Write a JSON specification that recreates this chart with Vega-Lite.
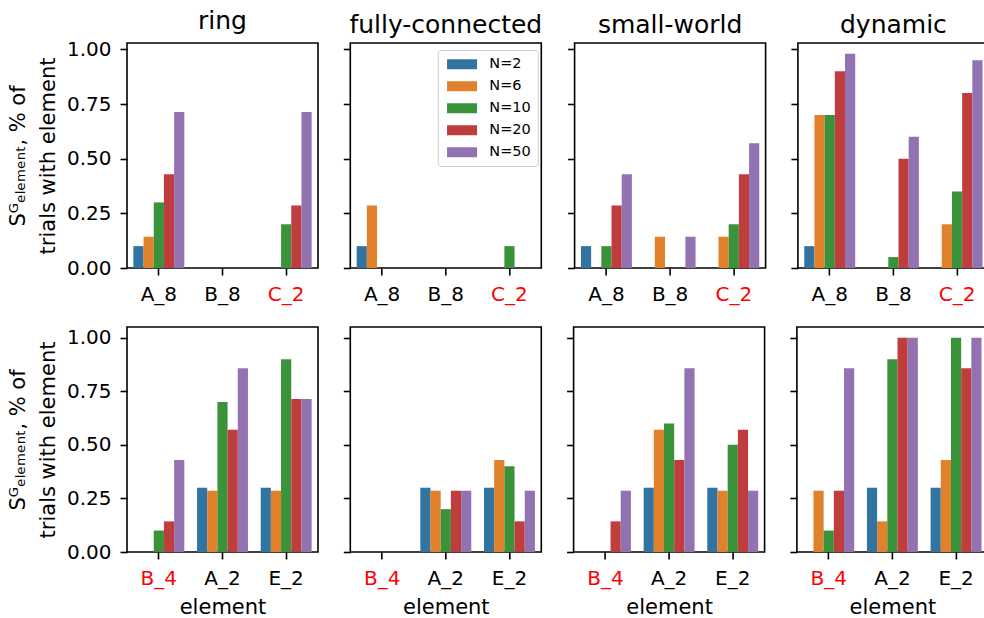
{
  "$schema": "https://vega.github.io/schema/vega-lite/v6.json",
  "padding": {"left": 6, "top": 8, "right": 0, "bottom": 0},
  "data": {"values": [
    {"topology":"ring","row":"top","element":"A_8","N":"N=2","value":0.1},
    {"topology":"ring","row":"top","element":"A_8","N":"N=6","value":0.143},
    {"topology":"ring","row":"top","element":"A_8","N":"N=10","value":0.3},
    {"topology":"ring","row":"top","element":"A_8","N":"N=20","value":0.429},
    {"topology":"ring","row":"top","element":"A_8","N":"N=50","value":0.714},
    {"topology":"ring","row":"top","element":"B_8","N":"N=2","value":0},
    {"topology":"ring","row":"top","element":"B_8","N":"N=6","value":0},
    {"topology":"ring","row":"top","element":"B_8","N":"N=10","value":0},
    {"topology":"ring","row":"top","element":"B_8","N":"N=20","value":0},
    {"topology":"ring","row":"top","element":"B_8","N":"N=50","value":0},
    {"topology":"ring","row":"top","element":"C_2","N":"N=2","value":0},
    {"topology":"ring","row":"top","element":"C_2","N":"N=6","value":0},
    {"topology":"ring","row":"top","element":"C_2","N":"N=10","value":0.2},
    {"topology":"ring","row":"top","element":"C_2","N":"N=20","value":0.286},
    {"topology":"ring","row":"top","element":"C_2","N":"N=50","value":0.714},
    {"topology":"fully-connected","row":"top","element":"A_8","N":"N=2","value":0.1},
    {"topology":"fully-connected","row":"top","element":"A_8","N":"N=6","value":0.286},
    {"topology":"fully-connected","row":"top","element":"A_8","N":"N=10","value":0},
    {"topology":"fully-connected","row":"top","element":"A_8","N":"N=20","value":0},
    {"topology":"fully-connected","row":"top","element":"A_8","N":"N=50","value":0},
    {"topology":"fully-connected","row":"top","element":"B_8","N":"N=2","value":0},
    {"topology":"fully-connected","row":"top","element":"B_8","N":"N=6","value":0},
    {"topology":"fully-connected","row":"top","element":"B_8","N":"N=10","value":0},
    {"topology":"fully-connected","row":"top","element":"B_8","N":"N=20","value":0},
    {"topology":"fully-connected","row":"top","element":"B_8","N":"N=50","value":0},
    {"topology":"fully-connected","row":"top","element":"C_2","N":"N=2","value":0},
    {"topology":"fully-connected","row":"top","element":"C_2","N":"N=6","value":0},
    {"topology":"fully-connected","row":"top","element":"C_2","N":"N=10","value":0.1},
    {"topology":"fully-connected","row":"top","element":"C_2","N":"N=20","value":0},
    {"topology":"fully-connected","row":"top","element":"C_2","N":"N=50","value":0},
    {"topology":"small-world","row":"top","element":"A_8","N":"N=2","value":0.1},
    {"topology":"small-world","row":"top","element":"A_8","N":"N=6","value":0},
    {"topology":"small-world","row":"top","element":"A_8","N":"N=10","value":0.1},
    {"topology":"small-world","row":"top","element":"A_8","N":"N=20","value":0.286},
    {"topology":"small-world","row":"top","element":"A_8","N":"N=50","value":0.429},
    {"topology":"small-world","row":"top","element":"B_8","N":"N=2","value":0},
    {"topology":"small-world","row":"top","element":"B_8","N":"N=6","value":0.143},
    {"topology":"small-world","row":"top","element":"B_8","N":"N=10","value":0},
    {"topology":"small-world","row":"top","element":"B_8","N":"N=20","value":0},
    {"topology":"small-world","row":"top","element":"B_8","N":"N=50","value":0.143},
    {"topology":"small-world","row":"top","element":"C_2","N":"N=2","value":0},
    {"topology":"small-world","row":"top","element":"C_2","N":"N=6","value":0.143},
    {"topology":"small-world","row":"top","element":"C_2","N":"N=10","value":0.2},
    {"topology":"small-world","row":"top","element":"C_2","N":"N=20","value":0.429},
    {"topology":"small-world","row":"top","element":"C_2","N":"N=50","value":0.571},
    {"topology":"dynamic","row":"top","element":"A_8","N":"N=2","value":0.1},
    {"topology":"dynamic","row":"top","element":"A_8","N":"N=6","value":0.7},
    {"topology":"dynamic","row":"top","element":"A_8","N":"N=10","value":0.7},
    {"topology":"dynamic","row":"top","element":"A_8","N":"N=20","value":0.9},
    {"topology":"dynamic","row":"top","element":"A_8","N":"N=50","value":0.98},
    {"topology":"dynamic","row":"top","element":"B_8","N":"N=2","value":0},
    {"topology":"dynamic","row":"top","element":"B_8","N":"N=6","value":0},
    {"topology":"dynamic","row":"top","element":"B_8","N":"N=10","value":0.05},
    {"topology":"dynamic","row":"top","element":"B_8","N":"N=20","value":0.5},
    {"topology":"dynamic","row":"top","element":"B_8","N":"N=50","value":0.6},
    {"topology":"dynamic","row":"top","element":"C_2","N":"N=2","value":0},
    {"topology":"dynamic","row":"top","element":"C_2","N":"N=6","value":0.2},
    {"topology":"dynamic","row":"top","element":"C_2","N":"N=10","value":0.35},
    {"topology":"dynamic","row":"top","element":"C_2","N":"N=20","value":0.8},
    {"topology":"dynamic","row":"top","element":"C_2","N":"N=50","value":0.95},
    {"topology":"ring","row":"bottom","element":"B_4","N":"N=2","value":0},
    {"topology":"ring","row":"bottom","element":"B_4","N":"N=6","value":0},
    {"topology":"ring","row":"bottom","element":"B_4","N":"N=10","value":0.1},
    {"topology":"ring","row":"bottom","element":"B_4","N":"N=20","value":0.143},
    {"topology":"ring","row":"bottom","element":"B_4","N":"N=50","value":0.429},
    {"topology":"ring","row":"bottom","element":"A_2","N":"N=2","value":0.3},
    {"topology":"ring","row":"bottom","element":"A_2","N":"N=6","value":0.286},
    {"topology":"ring","row":"bottom","element":"A_2","N":"N=10","value":0.7},
    {"topology":"ring","row":"bottom","element":"A_2","N":"N=20","value":0.571},
    {"topology":"ring","row":"bottom","element":"A_2","N":"N=50","value":0.857},
    {"topology":"ring","row":"bottom","element":"E_2","N":"N=2","value":0.3},
    {"topology":"ring","row":"bottom","element":"E_2","N":"N=6","value":0.286},
    {"topology":"ring","row":"bottom","element":"E_2","N":"N=10","value":0.9},
    {"topology":"ring","row":"bottom","element":"E_2","N":"N=20","value":0.714},
    {"topology":"ring","row":"bottom","element":"E_2","N":"N=50","value":0.714},
    {"topology":"fully-connected","row":"bottom","element":"B_4","N":"N=2","value":0},
    {"topology":"fully-connected","row":"bottom","element":"B_4","N":"N=6","value":0},
    {"topology":"fully-connected","row":"bottom","element":"B_4","N":"N=10","value":0},
    {"topology":"fully-connected","row":"bottom","element":"B_4","N":"N=20","value":0},
    {"topology":"fully-connected","row":"bottom","element":"B_4","N":"N=50","value":0},
    {"topology":"fully-connected","row":"bottom","element":"A_2","N":"N=2","value":0.3},
    {"topology":"fully-connected","row":"bottom","element":"A_2","N":"N=6","value":0.286},
    {"topology":"fully-connected","row":"bottom","element":"A_2","N":"N=10","value":0.2},
    {"topology":"fully-connected","row":"bottom","element":"A_2","N":"N=20","value":0.286},
    {"topology":"fully-connected","row":"bottom","element":"A_2","N":"N=50","value":0.286},
    {"topology":"fully-connected","row":"bottom","element":"E_2","N":"N=2","value":0.3},
    {"topology":"fully-connected","row":"bottom","element":"E_2","N":"N=6","value":0.429},
    {"topology":"fully-connected","row":"bottom","element":"E_2","N":"N=10","value":0.4},
    {"topology":"fully-connected","row":"bottom","element":"E_2","N":"N=20","value":0.143},
    {"topology":"fully-connected","row":"bottom","element":"E_2","N":"N=50","value":0.286},
    {"topology":"small-world","row":"bottom","element":"B_4","N":"N=2","value":0},
    {"topology":"small-world","row":"bottom","element":"B_4","N":"N=6","value":0},
    {"topology":"small-world","row":"bottom","element":"B_4","N":"N=10","value":0},
    {"topology":"small-world","row":"bottom","element":"B_4","N":"N=20","value":0.143},
    {"topology":"small-world","row":"bottom","element":"B_4","N":"N=50","value":0.286},
    {"topology":"small-world","row":"bottom","element":"A_2","N":"N=2","value":0.3},
    {"topology":"small-world","row":"bottom","element":"A_2","N":"N=6","value":0.571},
    {"topology":"small-world","row":"bottom","element":"A_2","N":"N=10","value":0.6},
    {"topology":"small-world","row":"bottom","element":"A_2","N":"N=20","value":0.429},
    {"topology":"small-world","row":"bottom","element":"A_2","N":"N=50","value":0.857},
    {"topology":"small-world","row":"bottom","element":"E_2","N":"N=2","value":0.3},
    {"topology":"small-world","row":"bottom","element":"E_2","N":"N=6","value":0.286},
    {"topology":"small-world","row":"bottom","element":"E_2","N":"N=10","value":0.5},
    {"topology":"small-world","row":"bottom","element":"E_2","N":"N=20","value":0.571},
    {"topology":"small-world","row":"bottom","element":"E_2","N":"N=50","value":0.286},
    {"topology":"dynamic","row":"bottom","element":"B_4","N":"N=2","value":0},
    {"topology":"dynamic","row":"bottom","element":"B_4","N":"N=6","value":0.286},
    {"topology":"dynamic","row":"bottom","element":"B_4","N":"N=10","value":0.1},
    {"topology":"dynamic","row":"bottom","element":"B_4","N":"N=20","value":0.286},
    {"topology":"dynamic","row":"bottom","element":"B_4","N":"N=50","value":0.857},
    {"topology":"dynamic","row":"bottom","element":"A_2","N":"N=2","value":0.3},
    {"topology":"dynamic","row":"bottom","element":"A_2","N":"N=6","value":0.143},
    {"topology":"dynamic","row":"bottom","element":"A_2","N":"N=10","value":0.9},
    {"topology":"dynamic","row":"bottom","element":"A_2","N":"N=20","value":1.0},
    {"topology":"dynamic","row":"bottom","element":"A_2","N":"N=50","value":1.0},
    {"topology":"dynamic","row":"bottom","element":"E_2","N":"N=2","value":0.3},
    {"topology":"dynamic","row":"bottom","element":"E_2","N":"N=6","value":0.429},
    {"topology":"dynamic","row":"bottom","element":"E_2","N":"N=10","value":1.0},
    {"topology":"dynamic","row":"bottom","element":"E_2","N":"N=20","value":0.857},
    {"topology":"dynamic","row":"bottom","element":"E_2","N":"N=50","value":1.0}
  ]},
  "config": {
    "font": "DejaVu Sans",
    "view": {"stroke": "black", "strokeWidth": 1.6},
    "axis": {"domain": false, "grid": false, "tickColor": "black", "tickWidth": 1.6, "tickSize": 7,
             "labelFont": "DejaVu Sans", "labelFontSize": 20, "labelColor": "black", "labelPadding": 9,
             "labelFlush": false, "labelAngle": 0,
             "titleFont": "DejaVu Sans", "titleFontSize": 21, "titleFontWeight": "normal", "titleColor": "black"},
    "title": {"font": "DejaVu Sans", "fontSize": 25, "fontWeight": "normal", "color": "black", "frame": "group", "baseline": "alphabetic", "offset": 5},
    "legend": {"title": null, "symbolType": "M-1,-1H5V1H-1Z", "symbolSize": 100, "labelOffset": 30,
               "labelFont": "DejaVu Sans", "labelFontSize": 14.5, "labelColor": "black", "rowPadding": 7, "padding": 7,
               "fillColor": "white", "strokeColor": "#cccccc", "cornerRadius": 3, "symbolStrokeWidth": 0, "symbolOpacity": 1}
  },
  "spacing": 21,
  "resolve": {"scale": {"x": "independent", "y": "independent"}, "legend": {"color": "independent"}},
  "vconcat": [
    {
      "spacing": 22.3,
      "resolve": {"scale": {"x": "independent", "y": "independent"}, "legend": {"color": "independent"}},
      "hconcat": [
        {"width": 191, "height": 225, "title": "ring",
         "transform": [{"filter": "datum.topology == 'ring' && datum.row == 'top'"}],
         "mark": "bar",
         "encoding": {
           "x": {"field": "element", "type": "nominal", "scale": {"domain": ["A_8","B_8","C_2"], "paddingInner": 0.2, "paddingOuter": 0.1},
                 "axis": {"title": null, "labelColor": {"condition": {"test": "datum.value == 'C_2' || datum.value == 'B_4'", "value": "red"}, "value": "black"}}},
           "xOffset": {"field": "N", "type": "nominal", "scale": {"domain": ["N=2","N=6","N=10","N=20","N=50"], "paddingInner": 0, "paddingOuter": 0}},
           "y": {"field": "value", "type": "quantitative", "scale": {"domain": [0, 1.029], "nice": false},
                 "axis": {"values": [0, 0.25, 0.5, 0.75, 1], "format": ".2f", "title": ["Sᴳₑₗₑₘₑₙₜ, % of", "trials with element"], "titleLineHeight": 30, "titlePadding": 8}},
           "color": {"field": "N", "type": "nominal", "scale": {"domain": ["N=2","N=6","N=10","N=20","N=50"], "range": ["#3274a1","#e1812c","#3a923a","#c03d3e","#9372b2"]}, "legend": null}
         }},
        {"width": 191, "height": 225, "title": "fully-connected",
         "transform": [{"filter": "datum.topology == 'fully-connected' && datum.row == 'top'"}],
         "mark": "bar",
         "encoding": {
           "x": {"field": "element", "type": "nominal", "scale": {"domain": ["A_8","B_8","C_2"], "paddingInner": 0.2, "paddingOuter": 0.1},
                 "axis": {"title": null, "labelColor": {"condition": {"test": "datum.value == 'C_2' || datum.value == 'B_4'", "value": "red"}, "value": "black"}}},
           "xOffset": {"field": "N", "type": "nominal", "scale": {"domain": ["N=2","N=6","N=10","N=20","N=50"], "paddingInner": 0, "paddingOuter": 0}},
           "y": {"field": "value", "type": "quantitative", "scale": {"domain": [0, 1.029], "nice": false},
                 "axis": {"values": [0, 0.25, 0.5, 0.75, 1], "labels": false, "title": null}},
           "color": {"field": "N", "type": "nominal", "scale": {"domain": ["N=2","N=6","N=10","N=20","N=50"], "range": ["#3274a1","#e1812c","#3a923a","#c03d3e","#9372b2"]},
                     "legend": {"orient": "none", "legendX": 87.5, "legendY": 7}}
         }},
        {"width": 191, "height": 225, "title": "small-world",
         "transform": [{"filter": "datum.topology == 'small-world' && datum.row == 'top'"}],
         "mark": "bar",
         "encoding": {
           "x": {"field": "element", "type": "nominal", "scale": {"domain": ["A_8","B_8","C_2"], "paddingInner": 0.2, "paddingOuter": 0.1},
                 "axis": {"title": null, "labelColor": {"condition": {"test": "datum.value == 'C_2' || datum.value == 'B_4'", "value": "red"}, "value": "black"}}},
           "xOffset": {"field": "N", "type": "nominal", "scale": {"domain": ["N=2","N=6","N=10","N=20","N=50"], "paddingInner": 0, "paddingOuter": 0}},
           "y": {"field": "value", "type": "quantitative", "scale": {"domain": [0, 1.029], "nice": false},
                 "axis": {"values": [0, 0.25, 0.5, 0.75, 1], "labels": false, "title": null}},
           "color": {"field": "N", "type": "nominal", "scale": {"domain": ["N=2","N=6","N=10","N=20","N=50"], "range": ["#3274a1","#e1812c","#3a923a","#c03d3e","#9372b2"]}, "legend": null}
         }},
        {"width": 191, "height": 225, "title": "dynamic",
         "transform": [{"filter": "datum.topology == 'dynamic' && datum.row == 'top'"}],
         "mark": "bar",
         "encoding": {
           "x": {"field": "element", "type": "nominal", "scale": {"domain": ["A_8","B_8","C_2"], "paddingInner": 0.2, "paddingOuter": 0.1},
                 "axis": {"title": null, "labelColor": {"condition": {"test": "datum.value == 'C_2' || datum.value == 'B_4'", "value": "red"}, "value": "black"}}},
           "xOffset": {"field": "N", "type": "nominal", "scale": {"domain": ["N=2","N=6","N=10","N=20","N=50"], "paddingInner": 0, "paddingOuter": 0}},
           "y": {"field": "value", "type": "quantitative", "scale": {"domain": [0, 1.029], "nice": false},
                 "axis": {"values": [0, 0.25, 0.5, 0.75, 1], "labels": false, "title": null}},
           "color": {"field": "N", "type": "nominal", "scale": {"domain": ["N=2","N=6","N=10","N=20","N=50"], "range": ["#3274a1","#e1812c","#3a923a","#c03d3e","#9372b2"]}, "legend": null}
         }}
      ]
    },
    {
      "spacing": 22.3,
      "resolve": {"scale": {"x": "independent", "y": "independent"}, "legend": {"color": "independent"}},
      "hconcat": [
        {"width": 191, "height": 225,
         "transform": [{"filter": "datum.topology == 'ring' && datum.row == 'bottom'"}],
         "mark": "bar",
         "encoding": {
           "x": {"field": "element", "type": "nominal", "scale": {"domain": ["B_4","A_2","E_2"], "paddingInner": 0.2, "paddingOuter": 0.1},
                 "axis": {"title": "element", "titlePadding": 8, "labelColor": {"condition": {"test": "datum.value == 'C_2' || datum.value == 'B_4'", "value": "red"}, "value": "black"}}},
           "xOffset": {"field": "N", "type": "nominal", "scale": {"domain": ["N=2","N=6","N=10","N=20","N=50"], "paddingInner": 0, "paddingOuter": 0}},
           "y": {"field": "value", "type": "quantitative", "scale": {"domain": [0, 1.05], "nice": false},
                 "axis": {"values": [0, 0.25, 0.5, 0.75, 1], "format": ".2f", "title": ["Sᴳₑₗₑₘₑₙₜ, % of", "trials with element"], "titleLineHeight": 30, "titlePadding": 8}},
           "color": {"field": "N", "type": "nominal", "scale": {"domain": ["N=2","N=6","N=10","N=20","N=50"], "range": ["#3274a1","#e1812c","#3a923a","#c03d3e","#9372b2"]}, "legend": null}
         }},
        {"width": 191, "height": 225,
         "transform": [{"filter": "datum.topology == 'fully-connected' && datum.row == 'bottom'"}],
         "mark": "bar",
         "encoding": {
           "x": {"field": "element", "type": "nominal", "scale": {"domain": ["B_4","A_2","E_2"], "paddingInner": 0.2, "paddingOuter": 0.1},
                 "axis": {"title": "element", "titlePadding": 8, "labelColor": {"condition": {"test": "datum.value == 'C_2' || datum.value == 'B_4'", "value": "red"}, "value": "black"}}},
           "xOffset": {"field": "N", "type": "nominal", "scale": {"domain": ["N=2","N=6","N=10","N=20","N=50"], "paddingInner": 0, "paddingOuter": 0}},
           "y": {"field": "value", "type": "quantitative", "scale": {"domain": [0, 1.05], "nice": false},
                 "axis": {"values": [0, 0.25, 0.5, 0.75, 1], "labels": false, "title": null}},
           "color": {"field": "N", "type": "nominal", "scale": {"domain": ["N=2","N=6","N=10","N=20","N=50"], "range": ["#3274a1","#e1812c","#3a923a","#c03d3e","#9372b2"]}, "legend": null}
         }},
        {"width": 191, "height": 225,
         "transform": [{"filter": "datum.topology == 'small-world' && datum.row == 'bottom'"}],
         "mark": "bar",
         "encoding": {
           "x": {"field": "element", "type": "nominal", "scale": {"domain": ["B_4","A_2","E_2"], "paddingInner": 0.2, "paddingOuter": 0.1},
                 "axis": {"title": "element", "titlePadding": 8, "labelColor": {"condition": {"test": "datum.value == 'C_2' || datum.value == 'B_4'", "value": "red"}, "value": "black"}}},
           "xOffset": {"field": "N", "type": "nominal", "scale": {"domain": ["N=2","N=6","N=10","N=20","N=50"], "paddingInner": 0, "paddingOuter": 0}},
           "y": {"field": "value", "type": "quantitative", "scale": {"domain": [0, 1.05], "nice": false},
                 "axis": {"values": [0, 0.25, 0.5, 0.75, 1], "labels": false, "title": null}},
           "color": {"field": "N", "type": "nominal", "scale": {"domain": ["N=2","N=6","N=10","N=20","N=50"], "range": ["#3274a1","#e1812c","#3a923a","#c03d3e","#9372b2"]}, "legend": null}
         }},
        {"width": 191, "height": 225,
         "transform": [{"filter": "datum.topology == 'dynamic' && datum.row == 'bottom'"}],
         "mark": "bar",
         "encoding": {
           "x": {"field": "element", "type": "nominal", "scale": {"domain": ["B_4","A_2","E_2"], "paddingInner": 0.2, "paddingOuter": 0.1},
                 "axis": {"title": "element", "titlePadding": 8, "labelColor": {"condition": {"test": "datum.value == 'C_2' || datum.value == 'B_4'", "value": "red"}, "value": "black"}}},
           "xOffset": {"field": "N", "type": "nominal", "scale": {"domain": ["N=2","N=6","N=10","N=20","N=50"], "paddingInner": 0, "paddingOuter": 0}},
           "y": {"field": "value", "type": "quantitative", "scale": {"domain": [0, 1.05], "nice": false},
                 "axis": {"values": [0, 0.25, 0.5, 0.75, 1], "labels": false, "title": null}},
           "color": {"field": "N", "type": "nominal", "scale": {"domain": ["N=2","N=6","N=10","N=20","N=50"], "range": ["#3274a1","#e1812c","#3a923a","#c03d3e","#9372b2"]}, "legend": null}
         }}
      ]
    }
  ]
}
